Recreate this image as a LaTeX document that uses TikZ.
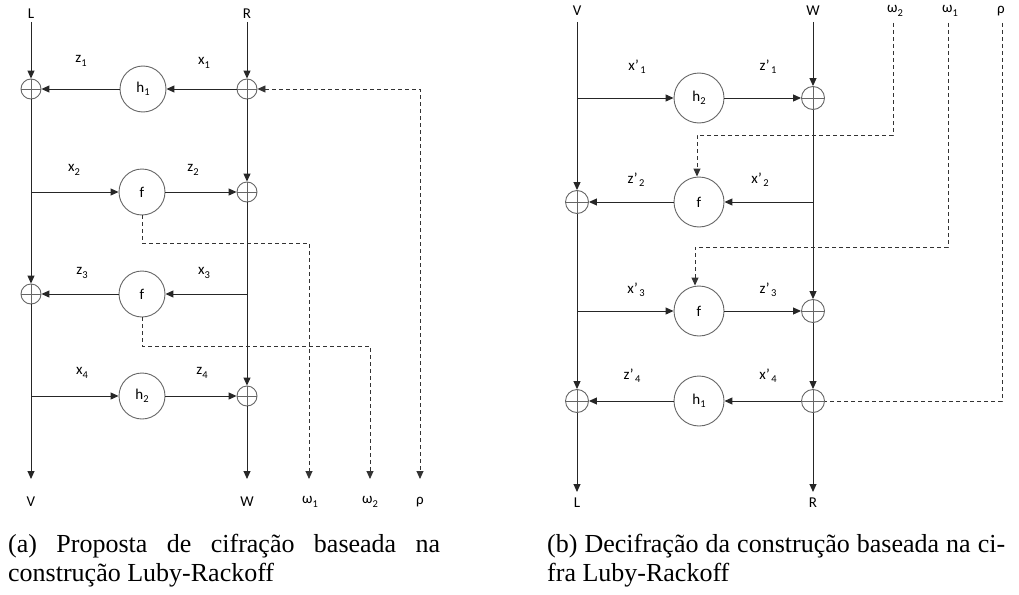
\documentclass[tikz,border=0pt]{standalone}
\usepackage{fontspec}
\usepackage{graphicx}
\setmainfont{Carlito}
\newfontfamily\capfont{Liberation Serif}
\usetikzlibrary{arrows.meta,calc}
\newcommand\sbs[1]{\raisebox{-0.45ex}{\fontsize{10.5}{11}\selectfont #1}}
\begin{document}
\begin{tikzpicture}[x=1pt,y=-1pt,
  >={Triangle[length=8pt,width=7pt]},
  every node/.style={font=\fontsize{15}{17}\selectfont},
  ln/.style={line width=1pt, draw=black!85},
  arr/.style={ln, ->},
  dsh/.style={line width=0.9pt, draw=black!80, dash pattern=on 4pt off 3pt},
  fnA/.style={circle, draw=black!60, line width=0.9pt, minimum size=46pt, inner sep=0pt},
  fnB/.style={fnA, minimum size=50pt},
  xorA/.style={circle, draw=black!60, line width=0.9pt, minimum size=20pt, inner sep=0pt,
    path picture={\draw[black!60, line width=0.9pt] (path picture bounding box.west) -- (path picture bounding box.east) (path picture bounding box.north) -- (path picture bounding box.south);}},
  xorB/.style={xorA, minimum size=23pt},
  captxt/.style={anchor=base west, inner sep=0pt, font=\capfont\fontsize{26}{30}\selectfont}
]
\useasboundingbox (0,0) rectangle (1019,594);

% ---------------- (a) ----------------
\node[xorA] (xa1l) at (31,89) {};
\node[xorA] (xa1r) at (247,89) {};
\node[fnA] (ha1) at (143,89) {h\sbs{1}};
\node[fnA] (fa2) at (142,192) {f};
\node[xorA] (xa2r) at (247,192) {};
\node[fnA] (fa3) at (142,294) {f};
\node[xorA] (xa3l) at (31,294) {};
\node[fnA] (ha4) at (142,396) {h\sbs{2}};
\node[xorA] (xa4r) at (247,396) {};

\node (tLa) at (31,14) {L};
\node (tRa) at (247,14) {R};
\node (tVa) at (31,502) {V};
\node (tWa) at (247,502) {W};
\node (tw1a) at (310,502) {ω\sbs{1}};
\node (tw2a) at (370,502) {ω\sbs{2}};
\node (trha) at (420,502) {ρ};

\node (lz1) at (81,61) {z\sbs{1}};
\node (lx1) at (204,63) {x\sbs{1}};
\node (lx2) at (74,170) {x\sbs{2}};
\node (lz2) at (193,170) {z\sbs{2}};
\node (lz3) at (82,273) {z\sbs{3}};
\node (lx3) at (204,273) {x\sbs{3}};
\node (lx4) at (82,373) {x\sbs{4}};
\node (lz4) at (202,373) {z\sbs{4}};

\coordinate (sLa) at (31,22);
\coordinate (sRa) at (247,22);
\coordinate (eLa) at (31,479);
\coordinate (eRa) at (247,479);
\coordinate (ba2) at (31,192);
\coordinate (ba4) at (31,396);
\coordinate (ba3) at (247,294);
\coordinate (ka1) at (309,243);
\coordinate (ew1a) at (309,479);
\coordinate (ka2) at (370,346);
\coordinate (ew2a) at (370,479);
\coordinate (erha) at (420,479);

\draw[arr] (sLa) -- (xa1l.north);
\draw[arr] (xa1l.south) -- (xa3l.north);
\draw[arr] (xa3l.south) -- (eLa);
\draw[arr] (ba2) -- (fa2.west);
\draw[arr] (fa2.east) -- (xa2r.west);
\draw[arr] (ba4) -- (ha4.west);
\draw[arr] (ha4.east) -- (xa4r.west);
\draw[arr] (sRa) -- (xa1r.north);
\draw[arr] (xa1r.west) -- (ha1.east);
\draw[arr] (ha1.west) -- (xa1l.east);
\draw[arr] (xa1r.south) -- (xa2r.north);
\draw[arr] (xa2r.south) -- (xa4r.north);
\draw[arr] (ba3) -- (fa3.east);
\draw[arr] (fa3.west) -- (xa3l.east);
\draw[arr] (xa4r.south) -- (eRa);

\draw[dsh,<->] (xa1r.east) -| (erha);
\draw[dsh,->] (fa2.south) |- (ka1) -- (ew1a);
\draw[dsh,->] (fa3.south) |- (ka2) -- (ew2a);

% ---------------- (b) ----------------
\node[xorB] (xb1r) at (813,98) {};
\node[fnB] (hb1) at (699,98) {h\sbs{2}};
\node[fnB] (fb2) at (699,202) {f};
\node[xorB] (xb2l) at (577,202) {};
\node[fnB] (fb3) at (699,311) {f};
\node[xorB] (xb3r) at (813,311) {};
\node[fnB] (hb4) at (699,401) {h\sbs{1}};
\node[xorB] (xb4l) at (577,401) {};
\node[xorB] (xb4r) at (813,401) {};

\node (tVb) at (577,11) {V};
\node (tWb) at (813,11) {W};
\node (tw2b) at (895,11) {ω\sbs{2}};
\node (tw1b) at (950,11) {ω\sbs{1}};
\node (trhb) at (1001,11) {ρ};
\node (tLb) at (577,503) {L};
\node (tRb) at (813,503) {R};

\node (lxp1) at (637,67) {x’\kern1.5pt\sbs{1}};
\node (lzp1) at (768,67) {z’\kern1.5pt\sbs{1}};
\node (lzp2) at (636,180) {z’\kern1.5pt\sbs{2}};
\node (lxp2) at (760,180) {x’\kern1.5pt\sbs{2}};
\node (lxp3) at (636,290) {x’\kern1.5pt\sbs{3}};
\node (lzp3) at (768,290) {z’\kern1.5pt\sbs{3}};
\node (lzp4) at (632,376) {z’\kern1.5pt\sbs{4}};
\node (lxp4) at (768,376) {x’\kern1.5pt\sbs{4}};

\coordinate (sLb) at (577,22);
\coordinate (sRb) at (813,22);
\coordinate (eLb) at (577,492);
\coordinate (eRb) at (813,492);
\coordinate (bb1) at (577,98);
\coordinate (bb3) at (577,311);
\coordinate (bb2) at (813,202);
\coordinate (sw2b) at (893,23);
\coordinate (kb1) at (697,135);
\coordinate (sw1b) at (948,23);
\coordinate (kb2) at (695,247);
\coordinate (srhb) at (1002,23);

\draw[arr] (sLb) -- (xb2l.north);
\draw[arr] (xb2l.south) -- (xb4l.north);
\draw[arr] (xb4l.south) -- (eLb);
\draw[arr] (bb1) -- (hb1.west);
\draw[arr] (hb1.east) -- (xb1r.west);
\draw[arr] (bb3) -- (fb3.west);
\draw[arr] (fb3.east) -- (xb3r.west);
\draw[arr] (sRb) -- (xb1r.north);
\draw[arr] (xb1r.south) -- (xb3r.north);
\draw[arr] (bb2) -- (fb2.east);
\draw[arr] (fb2.west) -- (xb2l.east);
\draw[arr] (xb3r.south) -- (xb4r.north);
\draw[arr] (xb4r.west) -- (hb4.east);
\draw[arr] (hb4.west) -- (xb4l.east);
\draw[arr] (xb4r.south) -- (eRb);

\draw[dsh,->] (sw2b) |- (kb1) -- (kb1 |- fb2.north);
\draw[dsh,->] (sw1b) |- (kb2) -- (kb2 |- fb3.north);
\draw[dsh] (srhb) |- (xb4r.east);

% ---------------- captions ----------------
\node[captxt] (capa1) at (8,552) {\makebox[432pt][s]{(a) Proposta de cifração baseada na}};
\node[captxt] (capa2) at (8,581) {construção Luby-Rackoff};
\node[captxt] (capb1) at (547,552) {\makebox[458pt][s]{(b) Decifração da construção baseada na ci-}};
\node[captxt] (capb2) at (547,581) {fra Luby-Rackoff};
\end{tikzpicture}
\end{document}
